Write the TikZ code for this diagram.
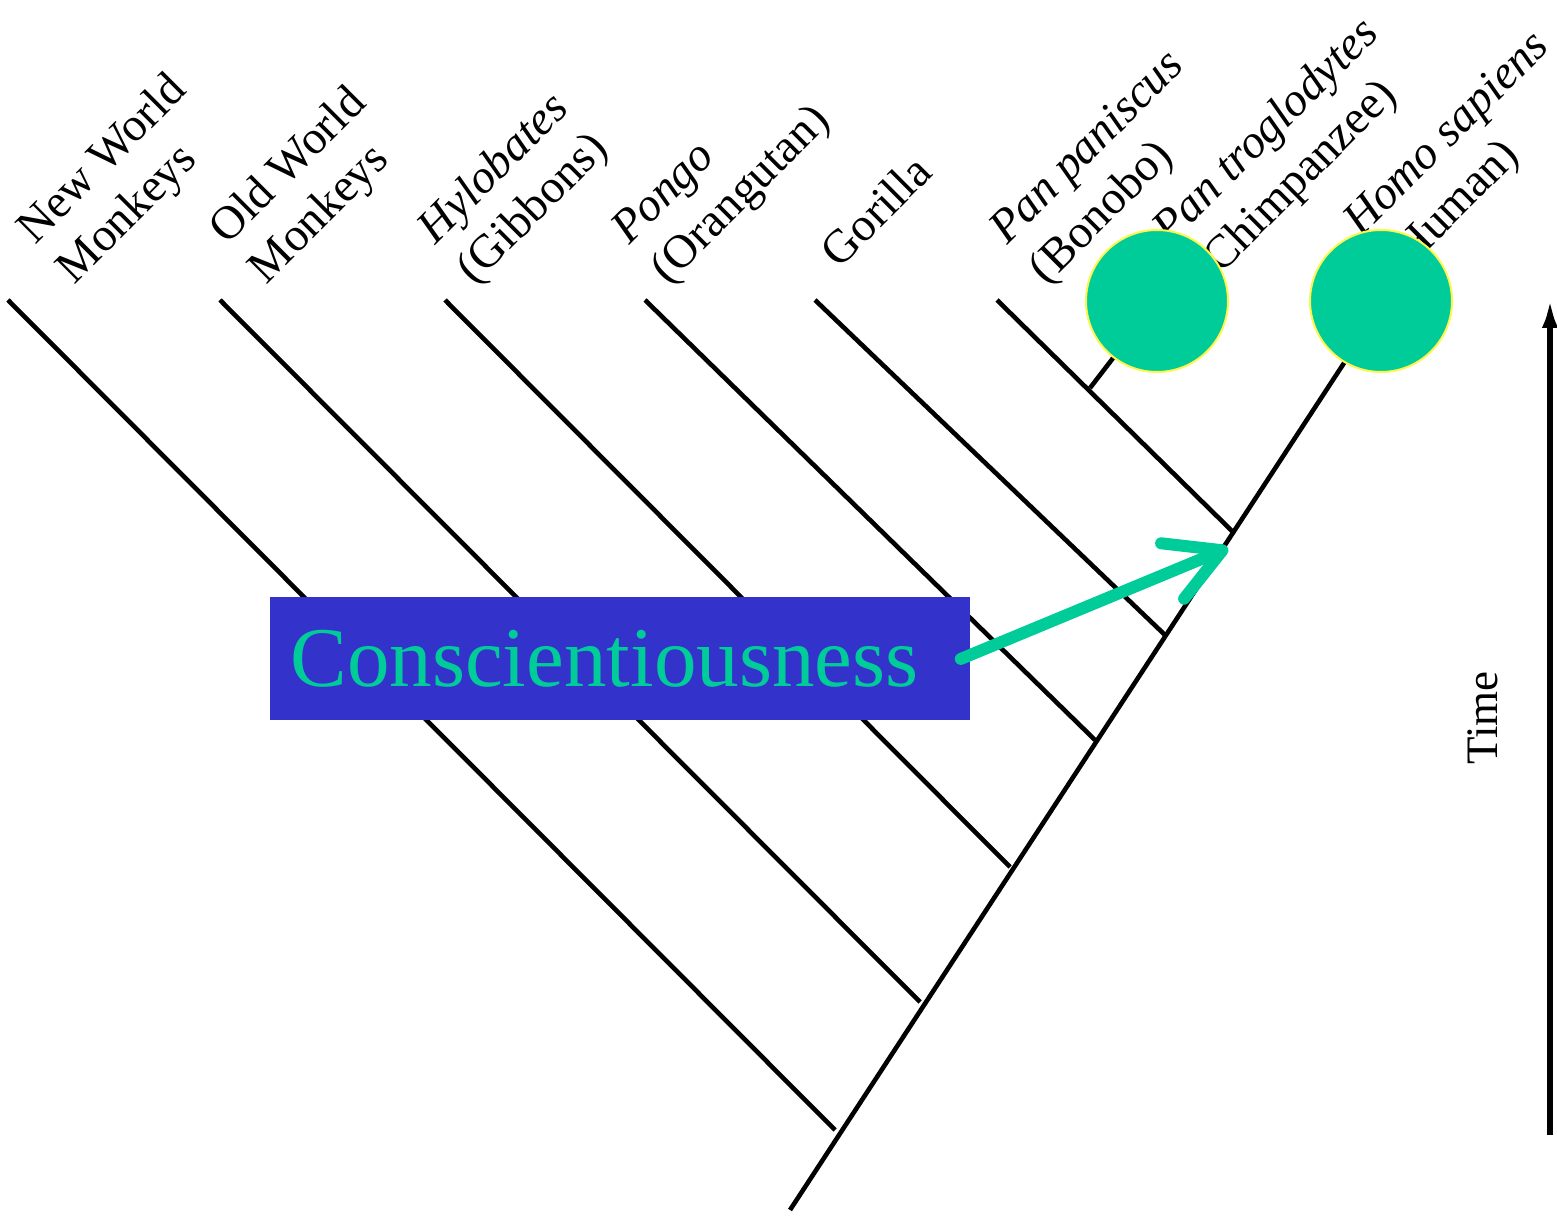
\documentclass[tikz,border=0pt]{standalone}
\usepackage{fontspec}
\setmainfont{Liberation Serif}
\usepackage{xcolor}
\usetikzlibrary{arrows.meta,positioning}
\definecolor{markgreen}{RGB}{0,204,153}
\definecolor{boxblue}{RGB}{51,51,204}
\tikzset{
branch/.style={line width=2.3pt, black},
taxon/.style={
  rotate=45, anchor=south west, inner sep=0pt, align=left,
  font=\fontsize{23.5}{28}\selectfont
  },
marker/.style={
  circle, fill=markgreen, draw=yellow!70!white, line width=1pt,
  minimum size=71pt, inner sep=0pt
  },
traitbox/.style={
  fill=boxblue, text=markgreen, anchor=north west,
  minimum width=350pt, minimum height=61.5pt,
  text width=330pt, inner xsep=10pt, inner ysep=0pt, align=left,
  font=\fontsize{42.5}{50}\selectfont
  }
}

\begin{document}
\begin{tikzpicture}[x=0.5pt,y=-0.5pt]
\useasboundingbox (0,0) rectangle (1557,1218);
% the tree
\path
  (790,1210) coordinate (root)
  (835,1130) coordinate (j1)
  (920,1002) coordinate (j2)
  (1010,867) coordinate (j3)
  (1095,740) coordinate (j4)
  (1165,635) coordinate (j5)
  (1233,532) coordinate (j6)
  (1090,388) coordinate (j7)
  (1380,308) coordinate (tip);
\path
  (8,300) coordinate (nwm)
  (220,300) coordinate (owm)
  (445,300) coordinate (hylo)
  (645,300) coordinate (pongo)
  (815,300) coordinate (gor)
  (997,300) coordinate (bono);
\draw[branch] (root) -- (tip);
\draw[branch] (nwm) -- (j1);
\draw[branch] (owm) -- (j2);
\draw[branch] (hylo) -- (j3);
\draw[branch] (pongo) -- (j4);
\draw[branch] (gor) -- (j5);
\draw[branch] (bono) -- (j6);
\draw[branch] (j7) -- (1157,301);

% the labels
\node[taxon] (l-nwm) at (82,293) {New World\\Monkeys};
\node[taxon] (l-owm) at (274,293) {Old World\\Monkeys};
\node[taxon] (l-hylo) at (482,293) {\textit{Hylobates}\\(Gibbons)};
\node[taxon] (l-pongo) at (676,293) {\textit{Pongo}\\(Orangutan)};
\node[taxon] (l-gor) at (840,270) {Gorilla};
\node[taxon] (l-bono) at (1054,293) {\textit{Pan paniscus}\\(Bonobo)};
\node[taxon] (l-chimp) at (1217,293) {\textit{Pan troglodytes}\\(Chimpanzee)};
\node[taxon] (l-homo) at (1408,285) {\textit{Homo sapiens}\\(Human)};

\node[marker] (chimp) at (1157,301) {};
\node[marker] (human) at (1381,301) {};

% time axis
\path
  (1550,1135) coordinate (tbot)
  (1550,298) coordinate (ttop);
\draw[line width=3pt,-{Latex[length=15pt,width=8pt]}] (tbot) -- (ttop);
\node[rotate=90, font=\fontsize{22.5}{27}\selectfont] (time) at (1483,718) {Time};

% the trait
\node[traitbox] (consc) at (270,597) {Conscientiousness};
\path (1228,548) coordinate (origin);
\draw[markgreen, line width=6pt, line cap=round,
  -{Straight Barb[round,length=27pt,width=30pt]}]
  ([xshift=-5pt]consc.east) -- (origin);
\end{tikzpicture}
\end{document}
